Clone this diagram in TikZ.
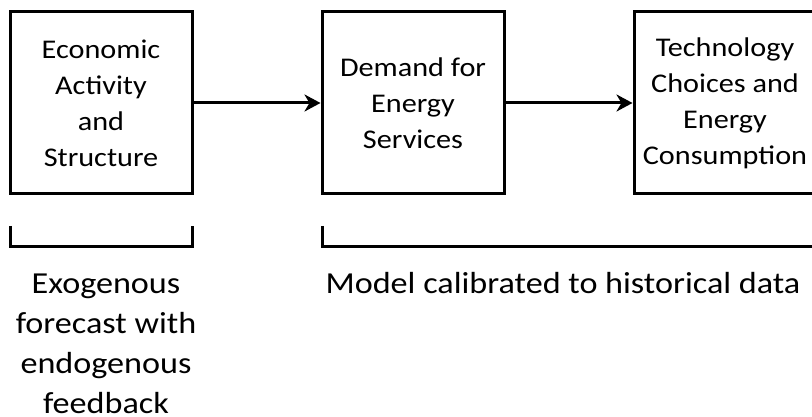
\documentclass[tikz,border=0pt]{standalone}
\usepackage{fontspec}
\setmainfont{Carlito}[FakeStretch=1.12]
\usetikzlibrary{arrows.meta}
\begin{document}
\begin{tikzpicture}[x=1pt,y=-1pt,
  boxst/.style={draw, line width=3pt, minimum width=182pt, minimum height=182pt, align=center, inner sep=0pt, font=\fontsize{27}{36}\selectfont},
  arr/.style={line width=3pt, -{Stealth[length=16pt,width=17pt,inset=5pt]}},
  brk/.style={line width=3pt},
  lbl/.style={align=center, inner sep=0pt, font=\fontsize{30.5}{40}\selectfont}]
\useasboundingbox (0,0) rectangle (812,417);
\clip (0,0) rectangle (812,417);
\node[boxst] (econ) at (101,103) {Economic\\Activity\\and\\Structure};
\node[boxst] (dem) at (413,103) {Demand for\\Energy\\Services};
\node[boxst] (tech) at (725,103) {Technology\\Choices and\\Energy\\Consumption};
\draw[arr] (econ.east) -- (dem.west);
\draw[arr] (dem.east) -- (tech.west);
\draw[brk] (10,226) -- (10,246) -- (192,246) -- (192,226);
\draw[brk] (322,226) -- (322,246) -- (840,246);
\node[lbl, anchor=base] (exo) at (106,413) {Exogenous\\forecast with\\endogenous\\feedback};
\node[lbl, anchor=base] (model) at (563,293) {Model calibrated to historical data};
\end{tikzpicture}
\end{document}
